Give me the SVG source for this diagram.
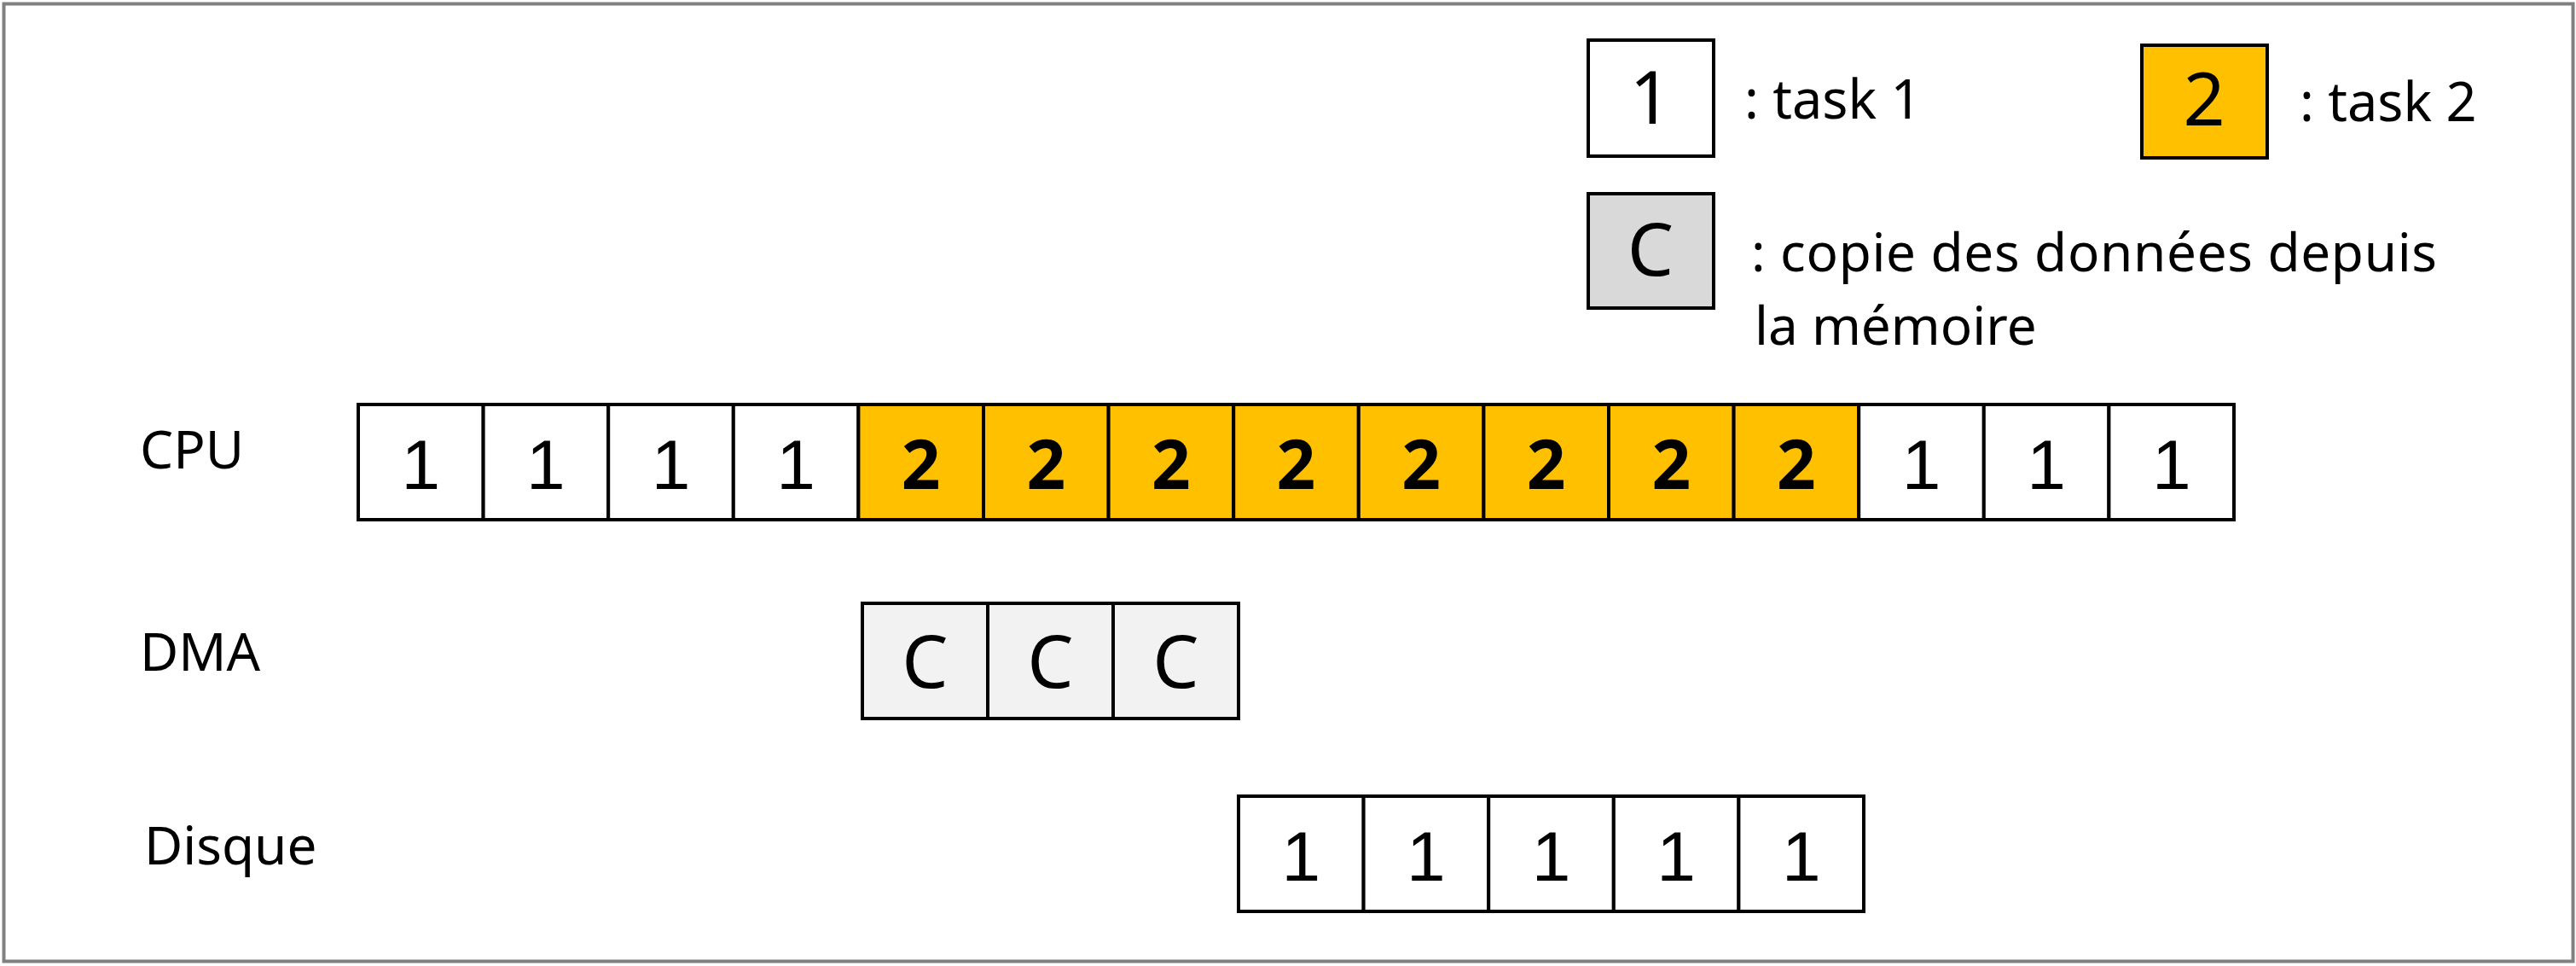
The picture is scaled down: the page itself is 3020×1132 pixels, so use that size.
<svg xmlns="http://www.w3.org/2000/svg" width="3020" height="1132" viewBox="0 0 3020 1132">
<style>
.cell{stroke:#000;stroke-width:4}
.w{fill:#fff}
.o{fill:#FFC000}
.g{fill:#F2F2F2}
.lg{fill:#D9D9D9}
.d1{font-family:"Liberation Sans",Arial,sans-serif;font-size:82px;fill:#000;text-anchor:middle}
.d2{font-family:"Noto Sans","Open Sans",sans-serif;font-weight:bold;font-size:80px;fill:#000;text-anchor:middle}
.dc{font-family:"Noto Sans","Open Sans",sans-serif;font-size:86px;fill:#000;text-anchor:middle}
.lab{font-family:"Noto Sans","Open Sans",sans-serif;font-size:62px;fill:#000}
.lt{font-family:"Noto Sans","Open Sans",sans-serif;font-size:63px;fill:#000}
.lt2{font-family:"Noto Sans","Open Sans",sans-serif;font-size:62px;fill:#000}
.leg{font-family:"Noto Sans","Open Sans",sans-serif;font-size:86px;fill:#000;text-anchor:middle}
</style>
<rect x="4.5" y="4.5" width="3012" height="1122" fill="#fff" stroke="#808080" stroke-width="4"/>

<g id="legend">
  <g id="legend-task1">
    <rect class="cell w" x="1862" y="47" width="147" height="136"/>
    <text class="leg" x="1935" y="145">1</text>
    <text class="lt" x="2045" y="139">: task 1</text>
  </g>
  <g id="legend-task2">
    <rect class="cell o" x="2511" y="53" width="147" height="132"/>
    <text class="leg" x="2584" y="147">2</text>
    <text class="lt" x="2696" y="142">: task 2</text>
  </g>
  <g id="legend-copy">
    <rect class="cell lg" x="1862" y="227" width="147" height="134"/>
    <text class="leg" x="1935" y="323">C</text>
    <text class="lt2" x="2053" y="318" textLength="804" lengthAdjust="spacing">: copie des données depuis</text>
    <text class="lt2" x="2057" y="404">la mémoire</text>
  </g>
</g>

<g id="labels">
  <text class="lab" x="164" y="549">CPU</text>
  <text class="lab" x="164" y="786">DMA</text>
  <text class="lab" x="169" y="1013">Disque</text>
</g>

<g id="cpu">
  <rect class="cell w" x="420" y="474" width="146.6" height="135"/>
  <rect class="cell w" x="566.6" y="474" width="146.6" height="135"/>
  <rect class="cell w" x="713.2" y="474" width="146.6" height="135"/>
  <rect class="cell w" x="859.8" y="474" width="146.6" height="135"/>
  <rect class="cell o" x="1006.4" y="474" width="146.6" height="135"/>
  <rect class="cell o" x="1153" y="474" width="146.6" height="135"/>
  <rect class="cell o" x="1299.6" y="474" width="146.6" height="135"/>
  <rect class="cell o" x="1446.2" y="474" width="146.6" height="135"/>
  <rect class="cell o" x="1592.8" y="474" width="146.6" height="135"/>
  <rect class="cell o" x="1739.4" y="474" width="146.6" height="135"/>
  <rect class="cell o" x="1886" y="474" width="146.6" height="135"/>
  <rect class="cell o" x="2032.6" y="474" width="146.6" height="135"/>
  <rect class="cell w" x="2179.2" y="474" width="146.6" height="135"/>
  <rect class="cell w" x="2325.8" y="474" width="146.6" height="135"/>
  <rect class="cell w" x="2472.4" y="474" width="146.6" height="135"/>
  <text class="d1" x="493.3" y="573">1</text>
  <text class="d1" x="639.9" y="573">1</text>
  <text class="d1" x="786.5" y="573">1</text>
  <text class="d1" x="933.1" y="573">1</text>
  <text class="d2" x="1079.7" y="573">2</text>
  <text class="d2" x="1226.3" y="573">2</text>
  <text class="d2" x="1372.9" y="573">2</text>
  <text class="d2" x="1519.5" y="573">2</text>
  <text class="d2" x="1666.1" y="573">2</text>
  <text class="d2" x="1812.7" y="573">2</text>
  <text class="d2" x="1959.3" y="573">2</text>
  <text class="d2" x="2105.9" y="573">2</text>
  <text class="d1" x="2252.5" y="573">1</text>
  <text class="d1" x="2399.1" y="573">1</text>
  <text class="d1" x="2545.7" y="573">1</text>
</g>

<g id="dma">
  <rect class="cell g" x="1011" y="707" width="147" height="135"/>
  <rect class="cell g" x="1158" y="707" width="147" height="135"/>
  <rect class="cell g" x="1305" y="707" width="147" height="135"/>
  <text class="dc" x="1084.5" y="806">C</text>
  <text class="dc" x="1231.5" y="806">C</text>
  <text class="dc" x="1378.5" y="806">C</text>
</g>

<g id="disque">
  <rect class="cell w" x="1452" y="933" width="146.6" height="135"/>
  <rect class="cell w" x="1598.6" y="933" width="146.6" height="135"/>
  <rect class="cell w" x="1745.2" y="933" width="146.6" height="135"/>
  <rect class="cell w" x="1891.8" y="933" width="146.6" height="135"/>
  <rect class="cell w" x="2038.4" y="933" width="146.6" height="135"/>
  <text class="d1" x="1525.3" y="1032">1</text>
  <text class="d1" x="1671.9" y="1032">1</text>
  <text class="d1" x="1818.5" y="1032">1</text>
  <text class="d1" x="1965.1" y="1032">1</text>
  <text class="d1" x="2111.7" y="1032">1</text>
</g>

<g id="connectors"></g>
</svg>
